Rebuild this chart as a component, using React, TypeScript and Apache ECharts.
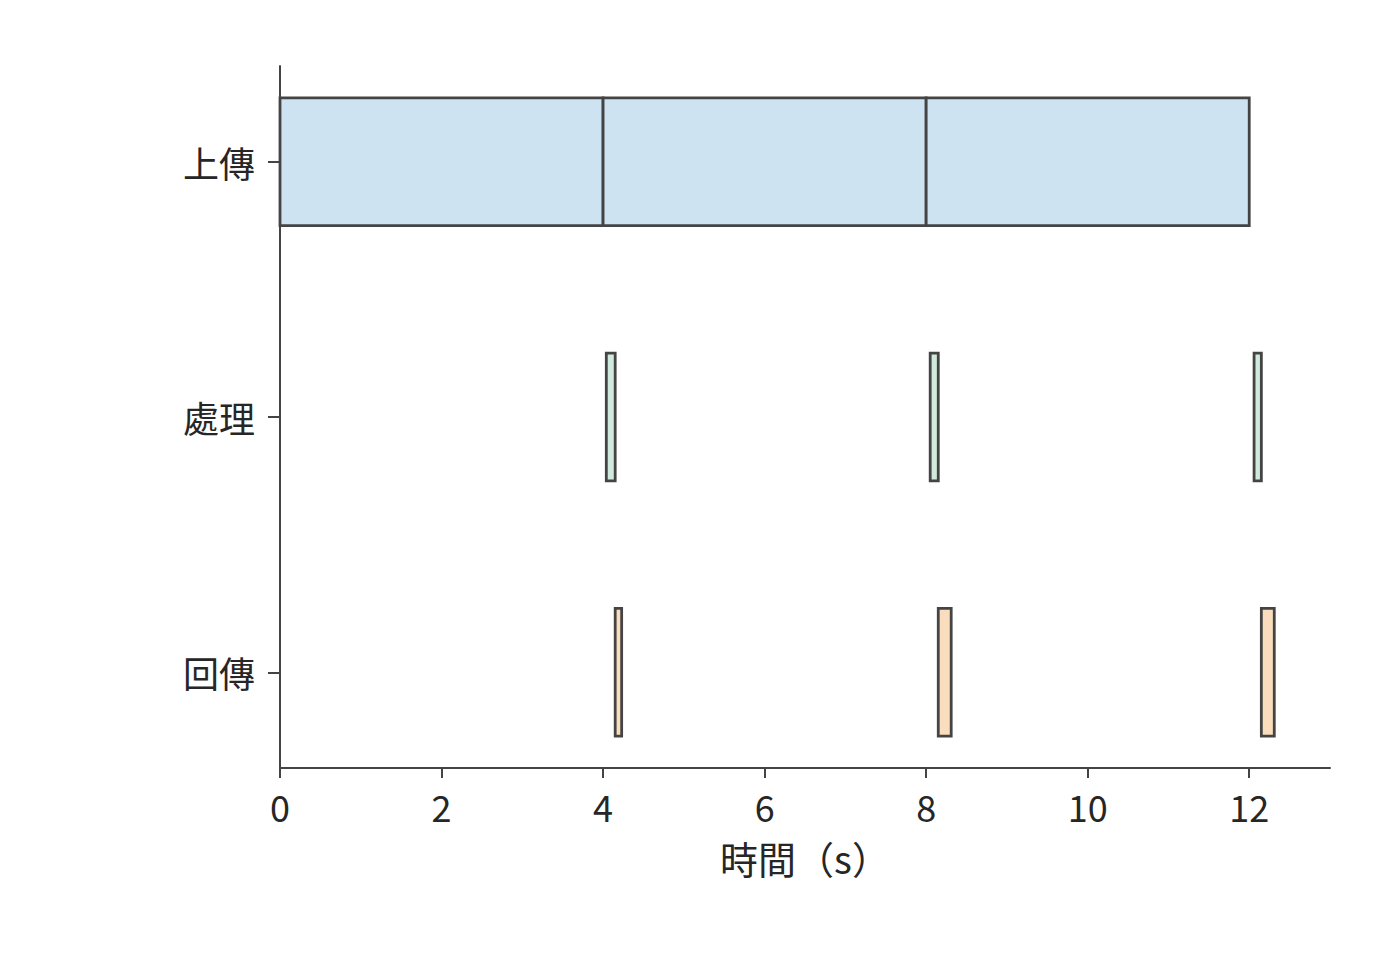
import { useEffect, useRef } from 'react';
import * as echarts from 'echarts';

const rows = ['上傳', '處理', '回傳'];
const uploadStart = [0, 4, 8];
const uploadEnd = [4, 8, 12];
const processStart = [4.04, 8.05, 12.06];
const processEnd = [4.15, 8.15, 12.15];
const returnStart = [4.15, 8.15, 12.15];
const returnEnd = [4.23, 8.31, 12.31];
const xTicks = [0, 2, 4, 6, 8, 10, 12];

const FONT = '"Noto Sans CJK TC", "Noto Sans", sans-serif';
const INK = '#444444';
const TEXT = '#262626';

function segs(starts: number[], ends: number[], row: number) {
  return starts.map((s, i) => [s, ends[i], row]);
}

export default function App() {
  const ref = useRef<HTMLDivElement>(null);

  useEffect(() => {
    if (!ref.current) return;
    const chart = echarts.init(ref.current, undefined, { renderer: 'svg' });

    const renderBar = (fill: string) => (params: any, api: any) => {
      const a = api.coord([api.value(0), api.value(2)]);
      const b = api.coord([api.value(1), api.value(2)]);
      const h = api.size([0, 0.5])[1];
      return {
        type: 'rect',
        shape: { x: a[0], y: a[1] - h / 2, width: b[0] - a[0], height: h },
        style: { fill, stroke: INK, lineWidth: 2.8 },
      };
    };

    const series = [
      { name: '上傳', data: segs(uploadStart, uploadEnd, 0), fill: '#cde3f2' },
      { name: '處理', data: segs(processStart, processEnd, 1), fill: '#d0eadd' },
      { name: '回傳', data: segs(returnStart, returnEnd, 2), fill: '#f9ddbc' },
    ].map((s) => ({
      name: s.name,
      type: 'custom',
      renderItem: renderBar(s.fill),
      encode: { x: [0, 1], y: 2 },
      data: s.data,
    }));

    chart.setOption({
      animation: false,
      backgroundColor: '#ffffff',
      grid: { left: 280, right: 70, top: 66, bottom: 192 },
      xAxis: {
        type: 'value',
        min: 0,
        max: 13,
        name: '時間（s）',
        nameLocation: 'middle',
        nameGap: 70,
        nameTextStyle: { color: TEXT, fontSize: 38, fontFamily: FONT },
        axisLine: { show: true, onZero: false, lineStyle: { color: INK, width: 2 } },
        axisTick: { show: true, length: 10, customValues: xTicks, lineStyle: { color: INK, width: 2 } },
        axisLabel: { customValues: xTicks, color: TEXT, fontSize: 36, fontFamily: FONT, margin: 20 },
        splitLine: { show: false },
      },
      yAxis: {
        type: 'value',
        inverse: true,
        min: -0.375,
        max: 2.375,
        axisLine: { show: true, onZero: false, lineStyle: { color: INK, width: 2 } },
        axisTick: { show: true, length: 12, customValues: [0, 1, 2], lineStyle: { color: INK, width: 2 } },
        axisLabel: {
          customValues: [0, 1, 2],
          formatter: (v: number) => rows[Math.round(v)] ?? '',
          color: TEXT,
          fontSize: 36,
          fontFamily: FONT,
          margin: 25,
        },
        splitLine: { show: false },
      },
      series,
    });

    return () => {
      chart.dispose();
    };
  }, []);

  return <div ref={ref} style={{ position: 'fixed', left: 0, top: 0, width: 1400, height: 960 }} />;
}
